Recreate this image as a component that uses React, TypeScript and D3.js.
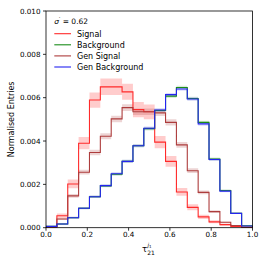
import * as d3 from "d3";

// bin contents (x1e-3), 19 equal bins over [0, 1]
const signal = [0.03, 0.55, 2.02, 3.9, 5.89, 6.5, 6.5, 6.27, 5.45, 5.35, 3.95, 3.06, 1.65, 0.94, 0.5, 0.27, 0.14, 0.06, 0.02];
const signalErr = [0.02, 0.1, 0.2, 0.28, 0.35, 0.38, 0.38, 0.37, 0.35, 0.34, 0.28, 0.25, 0.18, 0.14, 0.1, 0.07, 0.05, 0.03, 0.02];
const genSignal = [0.02, 0.4, 1.47, 2.56, 3.47, 4.22, 5.02, 5.54, 5.35, 5.35, 5.3, 4.86, 3.82, 2.63, 1.63, 0.74, 0.25, 0.1, 0.02];
const genSignalErr = [0.01, 0.05, 0.09, 0.11, 0.13, 0.14, 0.15, 0.16, 0.15, 0.15, 0.15, 0.14, 0.13, 0.11, 0.09, 0.06, 0.03, 0.02, 0.01];
const background = [0.06, 0.17, 0.46, 0.9, 1.43, 1.93, 2.47, 3.06, 3.78, 4.57, 5.41, 6.07, 6.47, 5.96, 4.86, 3.17, 1.72, 0.67, 0.09];
const genBackground = [0.06, 0.17, 0.46, 0.9, 1.43, 1.94, 2.49, 3.06, 3.78, 4.59, 5.43, 6.14, 6.4, 5.94, 4.79, 3.15, 1.69, 0.66, 0.08];
const bgErr = [0.02, 0.03, 0.04, 0.05, 0.06, 0.06, 0.07, 0.07, 0.07, 0.08, 0.08, 0.08, 0.08, 0.08, 0.08, 0.07, 0.05, 0.03, 0.02];

const xTicks = [0, 0.2, 0.4, 0.6, 0.8, 1.0];
const yTicks = [0, 0.002, 0.004, 0.006, 0.008, 0.01];

const series = [
  { key: "sig", label: "Signal", color: "#ff2a2a", values: signal, err: signalErr, band: "rgba(255,0,0,0.2)" },
  { key: "bkg", label: "Background", color: "#1a8c1a", values: background, err: bgErr, band: "rgba(0,128,0,0.15)" },
  { key: "gsig", label: "Gen Signal", color: "#ad3c3c", values: genSignal, err: genSignalErr, band: "rgba(165,42,42,0.2)" },
  { key: "gbkg", label: "Gen Background", color: "#2424f0", values: genBackground, err: bgErr, band: "rgba(0,0,255,0.15)" },
];

const W = 266;
const H = 266;
const PLOT = { left: 46, right: 252.5, top: 11, bottom: 227.7 };
const FONT = "DejaVu Sans, sans-serif";

export default function App() {
  const x = d3.scaleLinear().domain([0, 1]).range([PLOT.left, PLOT.right]);
  const y = d3.scaleLinear().domain([0, 0.01]).range([PLOT.bottom, PLOT.top]);
  const nBins = signal.length;
  const edges = d3.range(nBins + 1).map((i) => i / nBins);

  const stepPath = (vals: number[]) => {
    const pts: [number, number][] = [[x(edges[0]), y(0)]];
    vals.forEach((v, i) => {
      pts.push([x(edges[i]), y(v / 1000)]);
      pts.push([x(edges[i + 1]), y(v / 1000)]);
    });
    pts.push([x(edges[nBins]), y(0)]);
    return d3.line()(pts) ?? "";
  };

  const bandPath = (vals: number[], err: number[]) => {
    const rows = vals.flatMap((v, i) => [
      { x: x(edges[i]), lo: y((v - err[i]) / 1000), hi: y((v + err[i]) / 1000) },
      { x: x(edges[i + 1]), lo: y((v - err[i]) / 1000), hi: y((v + err[i]) / 1000) },
    ]);
    return (
      d3
        .area<{ x: number; lo: number; hi: number }>()
        .x((d) => d.x)
        .y0((d) => d.lo)
        .y1((d) => d.hi)(rows) ?? ""
    );
  };

  return (
    <svg width={W} height={H} style={{ position: "absolute", left: 0, top: 0 }} fontFamily={FONT}>
      <rect width={W} height={H} fill="#fff" />
      <defs>
        <clipPath id="plot-clip">
          <rect x={PLOT.left} y={PLOT.top} width={PLOT.right - PLOT.left} height={PLOT.bottom - PLOT.top} />
        </clipPath>
      </defs>

      <g clipPath="url(#plot-clip)">
        {series.map((s) => (
          <path key={s.key + "-band"} d={bandPath(s.values, s.err)} fill={s.band} stroke="none" />
        ))}
        {series.map((s) => (
          <path key={s.key} d={stepPath(s.values)} fill="none" stroke={s.color} strokeWidth={1.1} />
        ))}
      </g>

      {/* frame */}
      <rect
        x={PLOT.left}
        y={PLOT.top}
        width={PLOT.right - PLOT.left}
        height={PLOT.bottom - PLOT.top}
        fill="none"
        stroke="#000"
        strokeWidth={0.8}
      />

      {/* x axis */}
      {xTicks.map((t) => (
        <g key={t}>
          <line x1={x(t)} x2={x(t)} y1={PLOT.bottom} y2={PLOT.bottom + 3} stroke="#000" strokeWidth={0.8} />
          <text x={x(t)} y={PLOT.bottom + 9} textAnchor="middle" fontSize={7.2} fill="#000">
            {t.toFixed(1)}
          </text>
        </g>
      ))}
      <text x={142} y={252} fontSize={8.5} fill="#000">
        τ
        <tspan dy={2.8} fontSize={6}>21</tspan>
        <tspan dx={-7.2} dy={-8.2} fontSize={5.5} fontStyle="italic">j</tspan>
        <tspan dy={1.4} fontSize={4}>1</tspan>
      </text>

      {/* y axis */}
      {yTicks.map((t) => (
        <g key={t}>
          <line x1={PLOT.left - 3} x2={PLOT.left} y1={y(t)} y2={y(t)} stroke="#000" strokeWidth={0.8} />
          <text x={PLOT.left - 5.5} y={y(t)} dy="0.35em" textAnchor="end" fontSize={7.2} fill="#000">
            {t.toFixed(3)}
          </text>
        </g>
      ))}
      <text
        transform={`translate(14,${(PLOT.top + PLOT.bottom) / 2}) rotate(-90)`}
        textAnchor="middle"
        fontSize={8}
        fill="#000"
      >
        Normalised Entries
      </text>

      {/* legend */}
      <text x={54.3} y={23.7} fontSize={7.5} fill="#000">
        <tspan fontStyle="italic">σ</tspan>
        <tspan dy={-3} fontSize={5.5}>′</tspan>
        <tspan dy={3}> = 0.62</tspan>
      </text>
      {series.map((s, i) => (
        <g key={s.key + "-leg"} transform={`translate(54.3,${33.7 + i * 11.1})`}>
          <line x1={0} x2={16.7} y1={0} y2={0} stroke={s.color} strokeWidth={1.1} />
          <text x={22.7} y={0} dy="0.35em" fontSize={8} fill="#000">
            {s.label}
          </text>
        </g>
      ))}
    </svg>
  );
}
